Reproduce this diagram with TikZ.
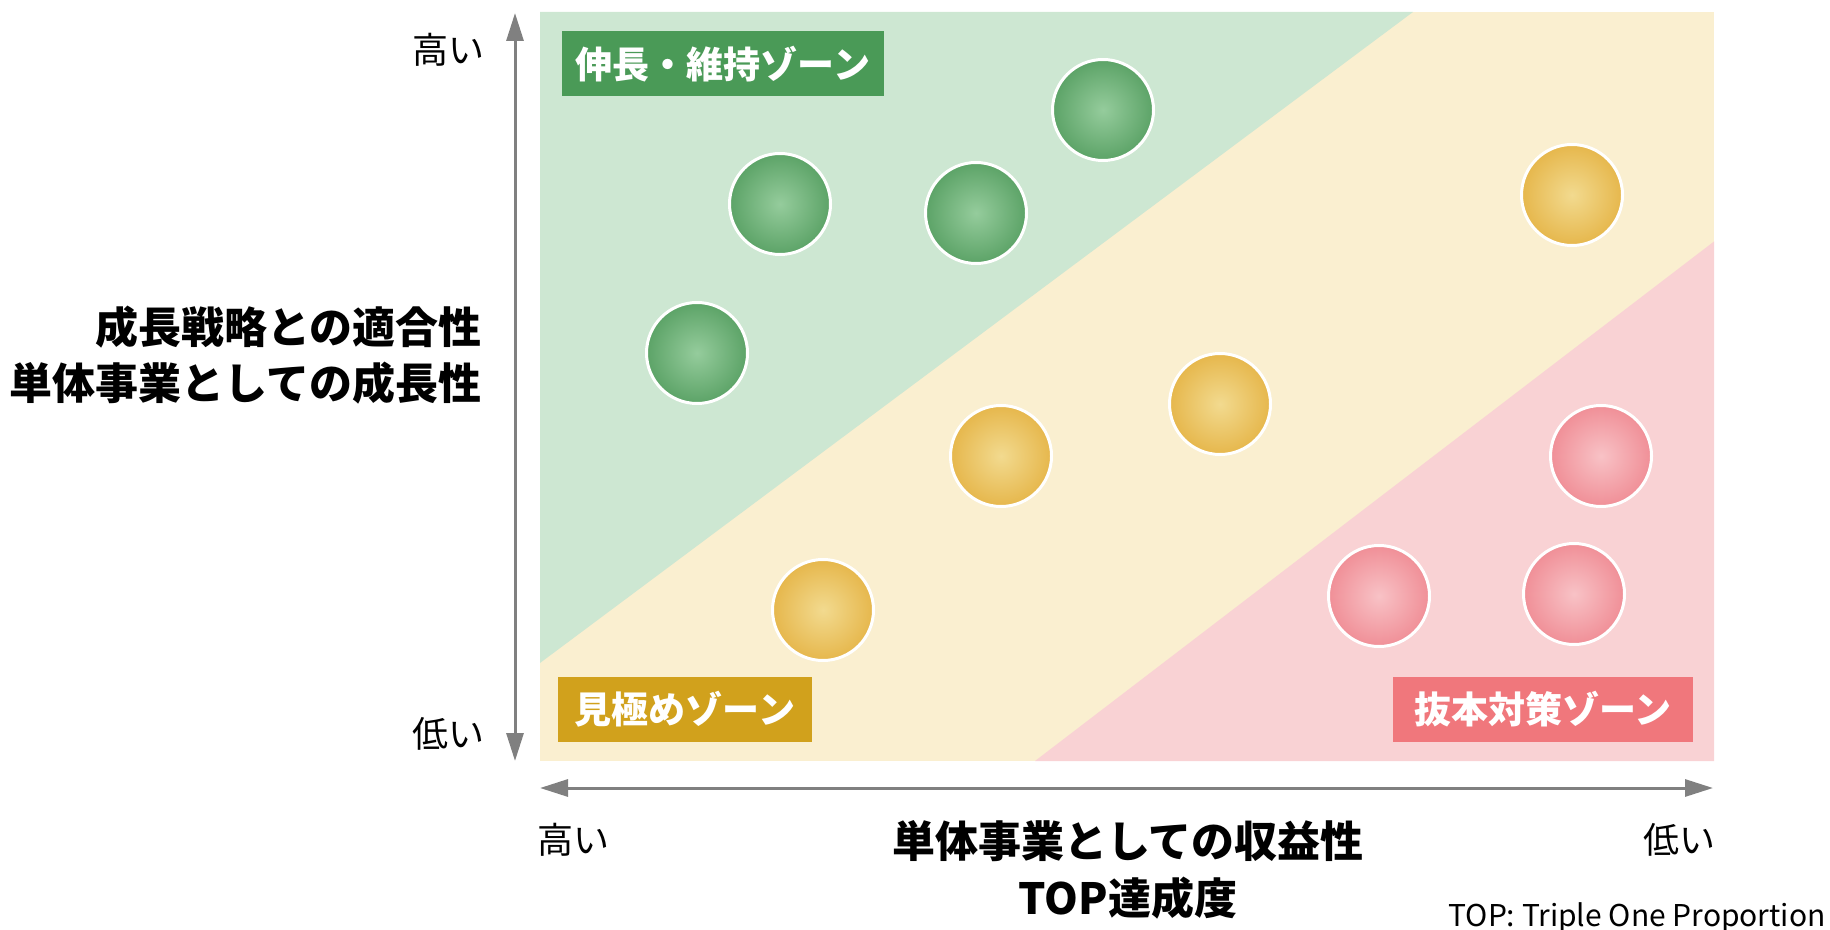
\documentclass[tikz,border=0pt]{standalone}
\usepackage{fontspec}
\setmainfont{Noto Sans CJK JP}
\usetikzlibrary{arrows.meta}
\definecolor{zoneG}{HTML}{CDE7D2}
\definecolor{zoneY}{HTML}{FAEFD0}
\definecolor{zoneP}{HTML}{F9D2D4}
\definecolor{boxG}{HTML}{4A9A57}
\definecolor{boxY}{HTML}{D1A11C}
\definecolor{boxP}{HTML}{F0777C}
\definecolor{axisgray}{HTML}{808080}
\definecolor{gIn}{HTML}{95CC9C}
\definecolor{gOut}{HTML}{5CA367}
\definecolor{yIn}{HTML}{F2DA8F}
\definecolor{yOut}{HTML}{E6B74C}
\definecolor{pIn}{HTML}{F8C2C6}
\definecolor{pOut}{HTML}{F08F97}
\begin{document}
\begin{tikzpicture}[x=0.5pt,y=-0.5pt,
  zonelabel/.style={inner sep=0pt, text=white, minimum height=32.5pt,
    font=\bfseries\fontsize{18.5}{20}\selectfont, text height=14.06pt, text depth=0pt},
  axislbl/.style={inner sep=0pt, font=\fontsize{18}{20}\selectfont, text height=13.7pt, text depth=0pt},
  titlelbl/.style={inner sep=0pt, font=\bfseries\fontsize{21.5}{24}\selectfont, text height=16.3pt, text depth=0pt},
  circbase/.style={circle, inner sep=0pt, minimum size=50.5pt, draw=white, line width=1.5pt},
  circG/.style={circbase, inner color=gIn, outer color=gOut},
  circY/.style={circbase, inner color=yIn, outer color=yOut},
  circP/.style={circbase, inner color=pIn, outer color=pOut},
  axisarrow/.style={draw=axisgray, line width=1.5pt,
    {Triangle[length=14pt,width=8.5pt]}-{Triangle[length=14pt,width=8.5pt]}}
]
\useasboundingbox (0,0) rectangle (1830,930);
% zones
\fill[zoneY] (540,12) rectangle (1714,761);
\fill[zoneG] (540,12) -- (1413,12) -- (540,663) -- cycle;
\fill[zoneP] (1714,241.5) -- (1714,761) -- (1035,761) -- cycle;
% zone labels
\node[zonelabel, fill=boxG, minimum width=161pt] (lg) at (723,64) {伸長・維持ゾーン};
\node[zonelabel, fill=boxY, minimum width=127pt] (ly) at (685,709.5) {見極めゾーン};
\node[zonelabel, fill=boxP, minimum width=150pt] (lp) at (1543,709.5) {抜本対策ゾーン};
% circles
\node[circG] (g1) at (780,204) {};
\node[circG] (g2) at (976,213) {};
\node[circG] (g3) at (1103,110) {};
\node[circG] (g4) at (697,353) {};
\node[circY] (y1) at (1572,195) {};
\node[circY] (y2) at (1220,404) {};
\node[circY] (y3) at (1001,456) {};
\node[circY] (y4) at (823,610) {};
\node[circP] (p1) at (1601,456) {};
\node[circP] (p2) at (1379,596) {};
\node[circP] (p3) at (1574,594) {};
% axes
\coordinate (vtop) at (515,13);
\coordinate (vbot) at (515,761);
\coordinate (hl) at (540,788);
\coordinate (hr) at (1713,788);
\draw[axisarrow] (vtop) -- (vbot);
\draw[axisarrow] (hl) -- (hr);
% axis end labels
\node[axislbl, anchor=east] (yhigh) at (485,50) {高い};
\node[axislbl, anchor=east] (ylow) at (485,734) {低い};
\node[axislbl, anchor=west] (xhigh) at (537,840) {高い};
\node[axislbl, anchor=east] (xlow) at (1716,840) {低い};
% axis titles
\node[titlelbl, anchor=east] (yt1) at (482,327) {成長戦略との適合性};
\node[titlelbl, anchor=east] (yt2) at (482,383) {単体事業としての成長性};
\node[titlelbl] (xt1) at (1128,841) {単体事業としての収益性};
\node[titlelbl] (xt2) at (1128,898) {TOP達成度};
% note
\node[inner sep=0pt, anchor=base east, font=\fontsize{15}{16}\selectfont] (note) at (1826,926) {TOP: Triple One Proportion};
\end{tikzpicture}
\end{document}
